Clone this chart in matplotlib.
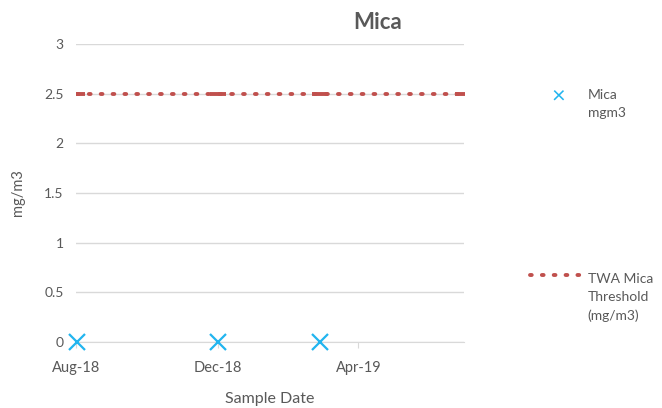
import matplotlib.pyplot as plt
import matplotlib.dates as mdates
import numpy as np
import datetime as dt

plt.rcParams['font.family'] = ['Lato', 'DejaVu Sans']

# sample data
mica_dates = [dt.date(2018, 8, 2), dt.date(2018, 12, 1), dt.date(2019, 2, 27)]
mica_values = [0, 0, 0]
twa_dates = [dt.date(2018, 8, 2), dt.date(2018, 12, 1), dt.date(2019, 2, 27), dt.date(2019, 6, 30)]
twa_values = [2.5, 2.5, 2.5, 2.5]
tick_dates = [dt.date(2018, 8, 1), dt.date(2018, 12, 1), dt.date(2019, 4, 1)]

fig = plt.figure(figsize=(6.62, 4.08), dpi=100)
ax = fig.add_axes([0.115, 0.162, 0.586, 0.730])

grey = '#595959'
dots = (0, (0.45, 2.6))
ax.plot(twa_dates, twa_values, color='#c0504d', linestyle=dots, dash_capstyle='round',
        linewidth=2.8, marker='_', markersize=12, markeredgewidth=2.8, label='TWA Mica\nThreshold\n(mg/m3)',
        zorder=3)
ax.plot(mica_dates, mica_values, linestyle='none', marker='x', color='#22b5ef', markersize=11,
        markeredgewidth=1.6, label='Mica\nmgm3', zorder=4, clip_on=False)

ax.set_ylim(0, 3)
ax.set_yticks(np.arange(0, 3.01, 0.5))
ax.set_yticklabels(['0', '0.5', '1', '1.5', '2', '2.5', '3'])
ax.set_xlim(dt.date(2018, 8, 1), dt.date(2019, 7, 1))
ax.set_xticks(tick_dates)
ax.xaxis.set_major_formatter(mdates.DateFormatter('%b-%y'))

ax.grid(axis='y', color='#d9d9d9', linewidth=1)
ax.set_axisbelow(True)
for s in ['top', 'right', 'left']:
    ax.spines[s].set_visible(False)
ax.spines['bottom'].set_color('#d9d9d9')
ax.tick_params(axis='y', length=0, labelsize=10, labelcolor=grey, pad=9)
ax.tick_params(axis='x', length=4, color='#d9d9d9', labelsize=10.5, labelcolor=grey, pad=10)

ax.set_xlabel('Sample Date', fontsize=11.5, color=grey, labelpad=12)
ax.set_ylabel('mg/m3', fontsize=10.5, color=grey, labelpad=14)
fig.text(0.571, 0.945, 'Mica', fontsize=16, color=grey, ha='center', va='center', weight='bold')

# legend entries
fig.text(0.843, 0.762, '×', fontsize=17, color='#22b5ef', ha='center', va='center')
fig.text(0.888, 0.745, 'Mica\nmgm3', fontsize=10, color=grey, ha='left', va='center', linespacing=1.6)
fig.add_artist(plt.Line2D([0.800, 0.878], [0.326, 0.326], color='#c0504d', linestyle=dots,
                          dash_capstyle='round', linewidth=2.8))
fig.text(0.888, 0.270, 'TWA Mica\nThreshold\n(mg/m3)', fontsize=10, color=grey, ha='left', va='center',
         linespacing=1.6)

plt.savefig('out.png', dpi=100)
